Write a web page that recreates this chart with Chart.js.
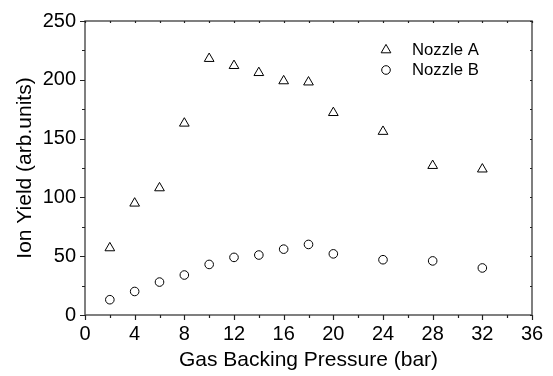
<!DOCTYPE html>
<html>
<head>
<meta charset="utf-8">
<script src="https://cdn.jsdelivr.net/npm/chart.js@4/dist/chart.umd.min.js"></script>
<style>
  html, body { margin: 0; padding: 0; background: #fff; }
  #wrap { width: 553px; height: 376px; position: relative; }
</style>
</head>
<body>
<div id="wrap"><canvas id="c" width="553" height="376"></canvas></div>
<script>
// ---- data ----
const pressures = [2, 4, 6, 8, 10, 12, 14, 16, 18, 20, 24, 28, 32];
const nozzleA = [57, 95, 108, 163, 218, 212, 206, 199, 198, 172, 156, 127, 124];
const nozzleB = [13, 20, 28, 34, 43, 49, 51, 56, 60, 52, 47, 46, 40];
const seriesLabels = ['Nozzle A', 'Nozzle B'];
const xTitle = 'Gas Backing Pressure (bar)';
const yTitle = 'Ion Yield (arb.units)';
const xRange = [0, 36];
const yRange = [0, 250];
const xMajorStep = 4, xMinorStep = 2;
const yMajorStep = 50, yMinorStep = 25;

const FONT = "'Liberation Sans', Arial, sans-serif";
const toPoints = (xs, ys) => xs.map((x, i) => ({ x: x, y: ys[i] }));

// frame + ticks drawn via the chart's scales
const framePlugin = {
  id: 'frame',
  afterDraw(chart) {
    const ctx = chart.ctx;
    const a = chart.chartArea;
    const xs = chart.scales.x, ys = chart.scales.y;
    ctx.save();
    ctx.strokeStyle = '#555';
    ctx.lineWidth = 1.5;
    ctx.strokeRect(a.left, a.top, a.right - a.left, a.bottom - a.top);
    ctx.strokeStyle = '#222';
    ctx.lineWidth = 1.2;
    ctx.beginPath();
    for (let v = xRange[0]; v <= xRange[1] + 1e-9; v += xMinorStep) {
      const px = Math.round(xs.getPixelForValue(v)) + 0.5;
      const major = Math.abs(v / xMajorStep - Math.round(v / xMajorStep)) < 1e-6;
      const L = major ? 5 : 3;
      ctx.moveTo(px, a.bottom); ctx.lineTo(px, a.bottom + L);
      ctx.moveTo(px, a.top); ctx.lineTo(px, a.top + 2);
    }
    for (let v = yRange[0]; v <= yRange[1] + 1e-9; v += yMinorStep) {
      const py = Math.round(ys.getPixelForValue(v)) + 0.5;
      const major = Math.abs(v / yMajorStep - Math.round(v / yMajorStep)) < 1e-6;
      const L = major ? 5 : 3;
      ctx.moveTo(a.left, py); ctx.lineTo(a.left - L, py);
      ctx.moveTo(a.right, py); ctx.lineTo(a.right - 2, py);
    }
    ctx.stroke();

    // legend
    const lx = a.left + 301, ly = a.top + 29, dy = 20;
    chart.data.datasets.forEach((ds, i) => {
      const y = ly + i * dy;
      ctx.strokeStyle = '#000';
      ctx.fillStyle = 'rgba(0,0,0,0)';
      ctx.lineWidth = 1;
      const opts = { pointStyle: ds.pointStyle, radius: ds.pointRadius, borderWidth: 1, rotation: 0 };
      if (Chart.helpers && Chart.helpers.drawPoint) {
        Chart.helpers.drawPoint(ctx, opts, lx, y);
      }
      ctx.fillStyle = '#000';
      ctx.font = '16.7px ' + FONT;
      ctx.textAlign = 'left';
      ctx.textBaseline = 'middle';
      ctx.fillText(ds.label, lx + 26, y);
    });
    ctx.restore();
  }
};

new Chart(document.getElementById('c'), {
  type: 'scatter',
  data: {
    datasets: [
      {
        label: seriesLabels[0],
        data: toPoints(pressures, nozzleA),
        pointStyle: 'triangle',
        pointRadius: 5.6,
        pointHoverRadius: 5.6,
        borderColor: '#000',
        backgroundColor: 'rgba(0,0,0,0)',
        pointBorderWidth: 1,
        showLine: false
      },
      {
        label: seriesLabels[1],
        data: toPoints(pressures, nozzleB),
        pointStyle: 'circle',
        pointRadius: 4.3,
        pointHoverRadius: 4.3,
        borderColor: '#000',
        backgroundColor: 'rgba(0,0,0,0)',
        pointBorderWidth: 1,
        showLine: false
      }
    ]
  },
  options: {
    responsive: false,
    animation: false,
    devicePixelRatio: 1,
    layout: { padding: { top: 16, right: 21, left: 0, bottom: 0 } },
    plugins: { legend: { display: false }, tooltip: { enabled: false } },
    scales: {
      x: {
        type: 'linear',
        min: xRange[0], max: xRange[1],
        grid: { display: false, drawTicks: false, tickLength: 0 },
        border: { display: false },
        ticks: { stepSize: xMajorStep, padding: 7, color: '#000', font: { family: FONT, size: 20 } },
        title: { display: true, text: xTitle, color: '#000', font: { family: FONT, size: 21 }, padding: { top: 3, bottom: 3 } },
        afterFit(s) { s.height = 61; }
      },
      y: {
        type: 'linear',
        min: yRange[0], max: yRange[1],
        grid: { display: false, drawTicks: false, tickLength: 0 },
        border: { display: false },
        ticks: { stepSize: yMajorStep, padding: 9, color: '#000', font: { family: FONT, size: 20 } },
        title: { display: true, text: yTitle, color: '#000', font: { family: FONT, size: 21 }, padding: { top: 13, bottom: 13 } },
        afterFit(s) { s.width = 85; }
      }
    }
  },
  plugins: [framePlugin]
});
</script>
</body>
</html>
